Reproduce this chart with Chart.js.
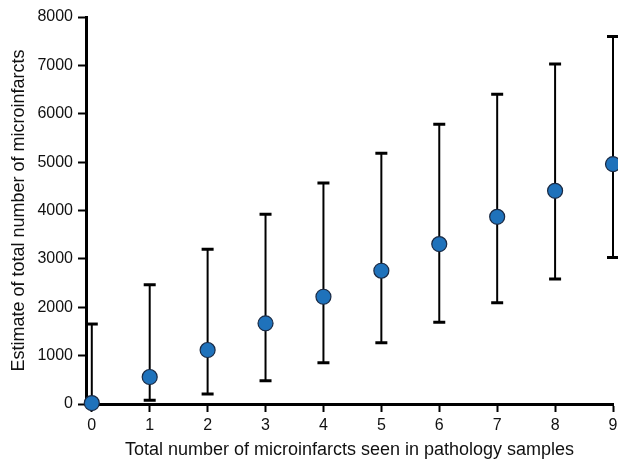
<!DOCTYPE html>
<html>
<head>
<meta charset="utf-8">
<script src="https://cdn.jsdelivr.net/npm/chart.js@4"></script>
<style>
  html, body { margin:0; padding:0; background:#fff; }
  #wrap { width:618px; height:461px; }
</style>
</head>
<body>
<div id="wrap"><canvas id="chart"></canvas></div>
<script>
// data
const xValues = [0, 1, 2, 3, 4, 5, 6, 7, 8, 9];
const estimates = [20, 558, 1116, 1667, 2217, 2755, 3306, 3870, 4407, 4959];
const upperCI = [1653, 2465, 3200, 3925, 4566, 5186, 5785, 6405, 7031, 7597];
const lowerCI = [0, 76, 207, 482, 853, 1267, 1688, 2093, 2583, 3031];
const xTicks = [0, 1, 2, 3, 4, 5, 6, 7, 8, 9];
const yTicks = [0, 1000, 2000, 3000, 4000, 5000, 6000, 7000, 8000];

const FONT = '"Liberation Sans", Arial, sans-serif';

// vertical error bars with caps, drawn under the points
const errorBars = {
  id: 'errorBars',
  beforeDatasetsDraw(chart) {
    const { ctx, scales: { x, y } } = chart;
    ctx.save();
    ctx.strokeStyle = '#000';
    xValues.forEach((v, i) => {
      const px = x.getPixelForValue(v);
      const top = y.getPixelForValue(upperCI[i]);
      const bot = y.getPixelForValue(lowerCI[i]);
      ctx.lineWidth = 2;
      ctx.beginPath(); ctx.moveTo(px, top); ctx.lineTo(px, bot); ctx.stroke();
      ctx.lineWidth = 3;
      ctx.beginPath();
      ctx.moveTo(px - 6, top); ctx.lineTo(px + 6, top);
      if (lowerCI[i] > 0) { ctx.moveTo(px - 6, bot); ctx.lineTo(px + 6, bot); }
      ctx.stroke();
    });
    ctx.restore();
  }
};

new Chart(document.getElementById('chart'), {
  type: 'scatter',
  data: {
    datasets: [{
      data: xValues.map((v, i) => ({ x: v, y: estimates[i] })),
      backgroundColor: '#1f72bb',
      borderColor: '#1a2a44',
      borderWidth: 1.2,
      pointRadius: 7.5,
      pointHoverRadius: 7.5,
      clip: false
    }]
  },
  options: {
    responsive: true,
    maintainAspectRatio: false,
    animation: false,
    events: [],
    layout: { autoPadding: false, padding: { top: 17, right: 5, left: 0, bottom: 0 } },
    plugins: { legend: { display: false }, tooltip: { enabled: false } },
    scales: {
      x: {
        type: 'linear',
        min: -0.1, max: 9,
        afterBuildTicks: s => { s.ticks = xTicks.map(v => ({ value: v })); },
        // the last label may run to the canvas edge, like the original
        beforeFit: s => { s._calculatePadding = function () {
          this.paddingLeft = 0; this.paddingRight = 0; this.paddingTop = 0; this.paddingBottom = 0;
        }; },
        afterFit: s => { s.height = 57; },
        border: { display: true, color: '#000', width: 3 },
        grid: { display: true, drawOnChartArea: false, drawTicks: true, tickLength: 8, tickWidth: 2, tickColor: '#000' },
        ticks: { color: '#111', font: { family: FONT, size: 16 }, padding: 4, maxRotation: 0,
          callback: v => String(v) },
        title: { display: true, text: 'Total number of microinfarcts seen in pathology samples',
          color: '#111', font: { family: FONT, size: 18 }, padding: { top: 5, bottom: 0 } }
      },
      y: {
        type: 'linear',
        min: 0, max: 8000,
        afterBuildTicks: s => { s.ticks = yTicks.map(v => ({ value: v })); },
        afterFit: s => { s.width = 86; },
        border: { display: true, color: '#000', width: 3 },
        grid: { display: true, drawOnChartArea: false, drawTicks: true, tickLength: 8, tickWidth: 2, tickColor: '#000' },
        ticks: { color: '#111', font: { family: FONT, size: 16 }, padding: 5,
          callback: v => String(v) },
        title: { display: true, text: 'Estimate of total number of microinfarcts',
          color: '#111', font: { family: FONT, size: 18 }, padding: { top: 8, bottom: 4 } }
      }
    }
  },
  plugins: [errorBars]
});
</script>
</body>
</html>
